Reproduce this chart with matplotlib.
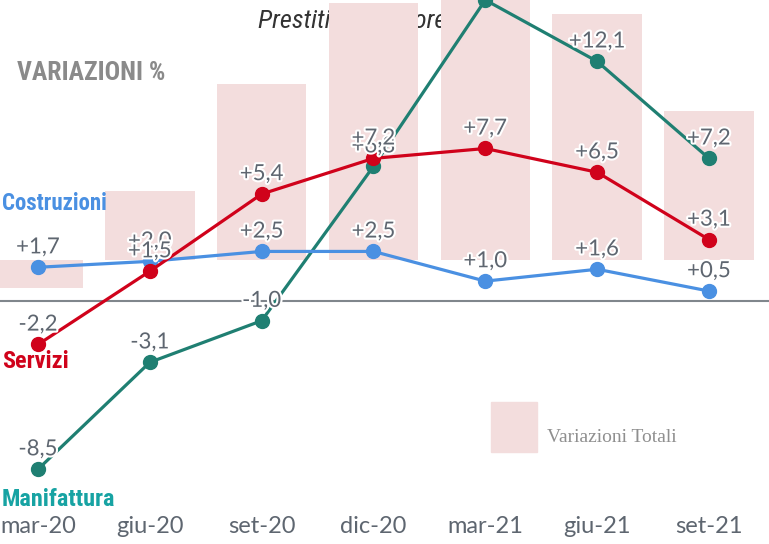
import matplotlib
matplotlib.use("Agg")
import matplotlib.pyplot as plt
import matplotlib.patheffects as pe
import numpy as np

# data
periods = ["mar-20", "giu-20", "set-20", "dic-20", "mar-21", "giu-21", "set-21"]
costruzioni = [1.7, 2.0, 2.5, 2.5, 1.0, 1.6, 0.5]
servizi = [-2.2, 1.5, 5.4, 7.2, 7.7, 6.5, 3.1]
manifattura = [-8.5, -3.1, -1.0, 6.8, 15.2, 12.1, 7.2]
totali = [-1.4, 3.5, 8.9, 13.0, 14.0, 12.4, 7.5]

BLUE = "#4a90e2"
RED = "#d0021b"
TEAL = "#1f7f72"
TEAL_TXT = "#17a3a3"
BAR = "#f3dddd"
LABEL = "#5e6670"

fig = plt.figure(figsize=(7.69, 5.44), dpi=100, facecolor="white")
ax2 = fig.add_axes([0, 34 / 544, 1, 510 / 544])
ax = fig.add_axes([0, 34 / 544, 1, 510 / 544], sharex=ax2)
ax.set_zorder(ax2.get_zorder() + 1)
ax.patch.set_visible(False)
ax2.patch.set_visible(False)

x = np.arange(len(periods))
ylo, yhi = -10.56, 15.2
ax.set_ylim(ylo, yhi)
ax.set_xlim(-0.34, 6.537)
shift = 41 / 19.8
ax2.set_ylim(ylo - shift, yhi - shift)

ax2.bar(x, totali, width=0.8, color=BAR, zorder=1)

ax.axhline(0, color="#80868c", lw=1.5, zorder=1)

stroke = [pe.withStroke(linewidth=3, foreground="white")]
for vals, col in [(manifattura, TEAL), (costruzioni, BLUE), (servizi, RED)]:
    ax.plot(x, vals, color=col, lw=2.3, marker="o", ms=10, zorder=3)
for vals in [manifattura, costruzioni, servizi]:
    for xi, v in zip(x, vals):
        txt = f"{v:+.1f}".replace(".", ",")
        ax.annotate(txt, (xi, v), xytext=(0, 10), textcoords="offset points",
                    ha="center", va="baseline", fontsize=16, family="Lato",
                    color=LABEL, path_effects=stroke, zorder=5,
                    annotation_clip=False, clip_on=True)

ax.set_xticks(x)
ax.set_xticklabels(periods, fontsize=17, family="Lato", color=LABEL)
ax.tick_params(axis="x", length=0, pad=4)
ax.set_yticks([])
ax2.set_yticks([])
ax2.tick_params(axis="x", labelbottom=False, length=0)
for a in (ax, ax2):
    for s in a.spines.values():
        s.set_visible(False)

cond = ["Roboto Condensed", "Roboto", "DejaVu Sans"]
fig.text(2 / 769, 1 - 203 / 544, "Costruzioni", color=BLUE, fontsize=16.5,
         weight="bold", family=cond, va="center", ha="left")
fig.text(2 / 769, 1 - 362 / 544, "Servizi", color=RED, fontsize=17.5,
         weight="bold", family=cond, va="center", ha="left")
fig.text(2 / 769, 1 - 499 / 544, "Manifattura", color=TEAL_TXT, fontsize=17.5,
         weight="bold", family=cond, va="center", ha="left")
fig.text(17 / 769, 1 - 73 / 544, "VARIAZIONI %", color="#8a8a8a", fontsize=18.5,
         weight="bold", family=cond, va="center", ha="left")

# title sits behind the bars
fig.text(258 / 769, 1 - 28 / 544, "Prestiti per settore", color="#333333",
         fontsize=19, style="italic", family=cond, va="baseline", ha="left",
         zorder=-1)

# legend
ax2.add_patch(plt.Rectangle((491 / 769, 1 - 452 / 544), 46 / 769, 50 / 544,
                            transform=fig.transFigure, color=BAR,
                            clip_on=False))
fig.text(547 / 769, 1 - 437 / 544, "Variazioni Totali", color="#8f8f8f",
         fontsize=14, family="Liberation Serif", va="center", ha="left")

fig.savefig("out.png", dpi=100, facecolor="white")
